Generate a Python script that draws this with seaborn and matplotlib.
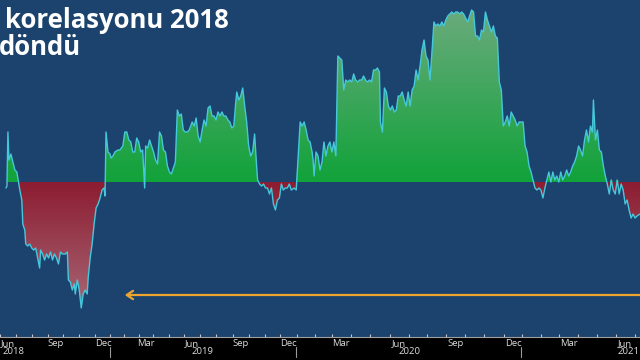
import numpy as np
import pandas as pd
import matplotlib
matplotlib.use("Agg")
import matplotlib.pyplot as plt
import matplotlib.transforms as mtransforms
from matplotlib.patches import PathPatch
from matplotlib.colors import LinearSegmentedColormap
from matplotlib.lines import Line2D
import seaborn as sns

# ---------------- data ----------------
# observation index along the (non-uniform) time axis
t = [0, 1, 2, 3, 5, 7, 9, 11, 13, 14, 16, 17, 19, 20, 22, 24, 26, 28, 30, 32,
     34, 35, 37, 39, 41, 43, 45, 47, 49, 51, 53, 55, 57, 60, 62, 63, 65, 67, 69, 70,
     72, 74, 76, 78, 80, 82, 83, 85, 87, 89, 91, 93, 95, 97, 99, 100, 101, 103, 105, 106,
     108, 110, 113, 115, 118, 120, 122, 124, 126, 128, 130, 132, 134, 136, 138, 140, 141, 143, 145, 147,
     149, 151, 153, 155, 157, 159, 161, 163, 165, 167, 169, 171, 173, 175, 177, 179, 181, 183, 185, 188,
     190, 192, 194, 196, 198, 200, 202, 204, 206, 208, 210, 212, 214, 216, 218, 220, 222, 224, 226, 228,
     230, 232, 233, 235, 237, 239, 241, 243, 245, 247, 249, 251, 253, 254, 256, 258, 260, 262, 264, 266,
     268, 270, 272, 274, 276, 278, 280, 282, 284, 286, 288, 291, 293, 295, 297, 299, 301, 303, 305, 307,
     309, 310, 311, 313, 315, 317, 319, 321, 323, 325, 327, 329, 331, 333, 335, 337, 339, 341, 343, 345,
     347, 349, 351, 353, 355, 357, 359, 361, 363, 365, 367, 369, 371, 373, 375, 377, 378, 380, 382, 384,
     386, 388, 390, 392, 394, 396, 398, 400, 402, 404, 406, 408, 410, 412, 414, 416, 418, 420, 422, 424,
     426, 428, 430, 432, 434, 436, 438, 440, 442, 444, 446, 448, 450, 452, 454, 456, 458, 460, 462, 464,
     466, 468, 470, 472, 474, 476, 478, 480, 482, 484, 486, 488, 490, 492, 494, 496, 498, 500, 502, 504,
     506, 508, 510, 512, 514, 516, 518, 520, 522, 524, 526, 528, 530, 532, 534, 536, 538, 540, 542, 544,
     546, 548, 550, 552, 554, 556, 558, 560, 562, 564, 566, 568, 570, 572, 574, 576, 578, 580, 582, 584,
     586, 588, 590, 592, 593, 595, 597, 599, 601, 603, 605, 607, 609, 611, 613, 615, 617, 619, 621, 623,
     625, 627, 629, 631, 633, 635, 637, 640]

corr = [-0.03, -0.02, 0.25, 0.11, 0.14, 0.10, 0.06, 0.05, -0.01, -0.04, -0.09, -0.21, -0.24, -0.31, -0.32, -0.31, -0.33, -0.34, -0.33, -0.38,
        -0.43, -0.34, -0.36, -0.39, -0.36, -0.38, -0.35, -0.39, -0.36, -0.38, -0.41, -0.35, -0.36, -0.36, -0.35, -0.49, -0.50, -0.54, -0.51, -0.56,
        -0.49, -0.54, -0.63, -0.56, -0.54, -0.56, -0.48, -0.38, -0.31, -0.21, -0.13, -0.11, -0.08, -0.04, -0.03, -0.07, 0.25, 0.15, 0.14, 0.12,
        0.13, 0.15, 0.16, 0.16, 0.18, 0.25, 0.25, 0.21, 0.20, 0.15, 0.15, 0.22, 0.20, 0.15, 0.16, -0.03, 0.18, 0.17, 0.21, 0.18,
        0.15, 0.11, 0.09, 0.25, 0.23, 0.16, 0.15, 0.08, 0.05, 0.04, 0.07, 0.10, 0.36, 0.33, 0.34, 0.26, 0.25, 0.25, 0.26, 0.30,
        0.28, 0.32, 0.23, 0.20, 0.26, 0.31, 0.28, 0.37, 0.38, 0.33, 0.33, 0.31, 0.35, 0.33, 0.35, 0.33, 0.33, 0.31, 0.30, 0.27,
        0.28, 0.40, 0.45, 0.41, 0.43, 0.47, 0.38, 0.30, 0.18, 0.13, 0.15, 0.24, 0.08, 0.01, -0.01, -0.02, -0.01, -0.03, -0.03, -0.06,
        -0.03, -0.11, -0.14, -0.09, -0.08, -0.01, -0.04, -0.03, -0.03, -0.01, -0.04, -0.03, -0.04, 0.13, 0.30, 0.28, 0.30, 0.26, 0.21, 0.20,
        0.15, 0.11, 0.03, 0.15, 0.13, 0.06, 0.10, 0.20, 0.13, 0.18, 0.20, 0.15, 0.20, 0.13, 0.63, 0.62, 0.61, 0.46, 0.51, 0.50,
        0.51, 0.50, 0.54, 0.51, 0.50, 0.51, 0.51, 0.53, 0.51, 0.50, 0.51, 0.50, 0.56, 0.56, 0.57, 0.55, 0.30, 0.25, 0.47, 0.45,
        0.38, 0.36, 0.38, 0.35, 0.36, 0.43, 0.43, 0.45, 0.41, 0.38, 0.45, 0.38, 0.46, 0.48, 0.56, 0.51, 0.58, 0.66, 0.71, 0.63,
        0.61, 0.51, 0.65, 0.80, 0.78, 0.79, 0.78, 0.80, 0.78, 0.81, 0.83, 0.84, 0.85, 0.84, 0.85, 0.85, 0.84, 0.85, 0.84, 0.82,
        0.80, 0.83, 0.86, 0.85, 0.73, 0.73, 0.71, 0.76, 0.75, 0.85, 0.81, 0.78, 0.75, 0.78, 0.73, 0.72, 0.50, 0.46, 0.28, 0.30,
        0.33, 0.28, 0.35, 0.33, 0.31, 0.28, 0.30, 0.30, 0.30, 0.18, 0.15, 0.08, 0.05, 0.01, -0.03, -0.04, -0.03, -0.04, -0.08, -0.03,
        0.01, 0.05, 0.00, 0.05, 0.01, 0.03, 0.00, 0.05, 0.01, 0.03, 0.06, 0.03, 0.05, 0.08, 0.10, 0.13, 0.18, 0.16, 0.13, 0.21,
        0.26, 0.20, 0.28, 0.25, 0.41, 0.21, 0.26, 0.16, 0.15, 0.08, 0.03, -0.01, -0.06, 0.01, -0.04, -0.06, 0.01, -0.06, -0.01, -0.04,
        -0.11, -0.09, -0.14, -0.18, -0.16, -0.18, -0.17, -0.16]

# quarter month labels and where they sit on the index axis
quarter_labels = ["Jun", "Sep", "Dec", "Mar", "Jun", "Sep", "Dec",
                  "Mar", "Jun", "Sep", "Dec", "Mar", "Jun"]
quarter_pos = [2, 50, 98, 141, 188, 237, 285, 338, 397, 454, 512, 568, 625]
year_labels = ["2018", "2019", "2020", "2021"]
year_pos = [8, 198, 407, 640]
year_breaks = [105, 293, 520]

title_line1 = "korelasyonu 2018"
title_line2 = "döndü"

# ---------------- style ----------------
BG = "#1b436d"
sns.set_style("dark", {"axes.facecolor": BG})
plt.rcParams["font.family"] = ["Open Sans", "DejaVu Sans"]

W, H = 640, 360
fig = plt.figure(figsize=(6.4, 3.6), dpi=100, facecolor="black")
ax = fig.add_axes([0, 23 / H, 1, 337 / H])
ax.set_facecolor(BG)

XMIN, XMAX = 0, 640
YMIN, YMAX = -0.775, 0.91

df = pd.DataFrame({"t": t, "corr": corr})
c = df["corr"].to_numpy()
x = df["t"].to_numpy()

pos = ax.fill_between(x, 0, np.clip(c, 0, None), color="none", lw=0)
neg = ax.fill_between(x, np.clip(c, None, 0), 0, color="none", lw=0)


def gradient_fill(coll, y_far, c_near, c_far):
    for path in coll.get_paths():
        patch = PathPatch(path, transform=ax.transData, fc="none", ec="none")
        ax.add_patch(patch)
        cmap = LinearSegmentedColormap.from_list("g", [c_near, c_far])
        img = np.linspace(0, 1, 256).reshape(-1, 1)
        im = ax.imshow(img, extent=[XMIN, XMAX, 0, y_far], origin="lower",
                       aspect="auto", cmap=cmap, zorder=2, interpolation="bilinear")
        im.set_clip_path(patch)


gradient_fill(pos, YMAX, "#11a23a", "#6fab80")
gradient_fill(neg, YMIN, "#8c1c31", "#ad7884")

sns.lineplot(data=df, x="t", y="corr", ax=ax, color="#46c8dc", lw=1.0, zorder=4)

ax.set_xlim(XMIN, XMAX)
ax.set_ylim(YMIN, YMAX)
ax.set_xlabel("")
ax.set_ylabel("")
ax.set_yticks([])

# month boundary ticks (minor) and quarter labels (major)
q_idx = np.arange(0, 3 * len(quarter_pos), 3)
half = np.arange(-0.5, q_idx[-1] + 1, 1.0)
slope0 = (quarter_pos[1] - quarter_pos[0]) / 3
slope1 = (quarter_pos[-1] - quarter_pos[-2]) / 3
bounds = []
for h in half:
    if h < q_idx[0]:
        bounds.append(quarter_pos[0] + (h - q_idx[0]) * slope0)
    elif h > q_idx[-1]:
        bounds.append(quarter_pos[-1] + (h - q_idx[-1]) * slope1)
    else:
        bounds.append(np.interp(h, q_idx, quarter_pos))
ax.set_xticks(quarter_pos, quarter_labels)
ax.set_xticks(bounds, minor=True)
ax.tick_params(axis="x", which="major", length=0, pad=1.2, labelsize=6.8,
               labelcolor="#dcdcdc")
ax.tick_params(axis="x", which="minor", length=2.5, width=0.8, color="#c8c8c8",
               direction="in", bottom=True)

for s in ["top", "left", "right"]:
    ax.spines[s].set_visible(False)
ax.spines["bottom"].set_color("#a0a0a0")
ax.spines["bottom"].set_linewidth(0.8)

trans = mtransforms.blended_transform_factory(ax.transData, fig.transFigure)
for lab, xp in zip(year_labels, year_pos):
    ha = "right" if xp >= XMAX else "center"
    ax.text(xp, 1 - 352 / H, lab, transform=trans, ha=ha, va="center",
            fontsize=6.8, color="#dcdcdc", clip_on=False)
for xb in year_breaks:
    ax.add_line(Line2D([xb, xb], [1 - 347 / H, 1 - 357 / H], transform=trans,
                       color="#9a9a9a", lw=0.8, clip_on=False))

# arrow
ay = 1 - 295 / 337
ax.annotate("", xy=(122 / W, ay), xytext=(1.02, ay), xycoords="axes fraction",
            arrowprops=dict(arrowstyle="->,head_length=0.45,head_width=0.3",
                            color="#f0a530", lw=1.6), zorder=5)

# title (left part is cut off in the reference)
fig.text(5 / W, 1 - 28 / H, title_line1, color="white", fontsize=18.5,
         fontweight="bold", va="baseline", ha="left")
fig.text(-1 / W, 1 - 55 / H, title_line2, color="white", fontsize=18.5,
         fontweight="bold", va="baseline", ha="left")

fig.savefig("out.png", dpi=100, facecolor="black")
